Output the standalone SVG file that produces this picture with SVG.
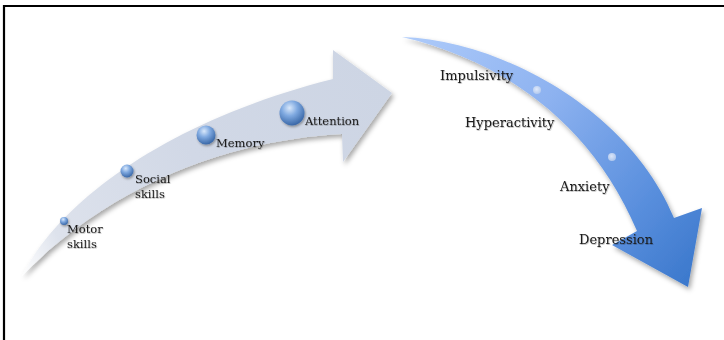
<svg xmlns="http://www.w3.org/2000/svg" width="724" height="340" viewBox="0 0 724 340">
<style>
.lbl{font-family:"DejaVu Serif","Liberation Serif",serif;fill:#1a1a1a;}
.sm{font-size:11.5px;}
.lg{font-size:13px;}
.frame{stroke:#000;stroke-width:2.2;fill:none;}
</style>
<defs>
<linearGradient id="gLeft" x1="22" y1="276" x2="392" y2="93" gradientUnits="userSpaceOnUse">
<stop offset="0" stop-color="#ffffff"/>
<stop offset="0.12" stop-color="#dde2ec"/>
<stop offset="0.5" stop-color="#d1d8e6"/>
<stop offset="1" stop-color="#cdd5e4"/>
</linearGradient>
<linearGradient id="gRight" x1="402" y1="37" x2="690" y2="285" gradientUnits="userSpaceOnUse">
<stop offset="0" stop-color="#aecbfa"/>
<stop offset="0.4" stop-color="#8db2f0"/>
<stop offset="0.75" stop-color="#5b90de"/>
<stop offset="1" stop-color="#3b78cc"/>
</linearGradient>
<radialGradient id="ball" cx="0.4" cy="0.3" r="0.7">
<stop offset="0" stop-color="#d9e8fb"/>
<stop offset="0.45" stop-color="#7fa9e0"/>
<stop offset="1" stop-color="#3a68a8"/>
</radialGradient>
<radialGradient id="ballR" cx="0.45" cy="0.4" r="0.6">
<stop offset="0" stop-color="#eef3fc"/>
<stop offset="1" stop-color="#b9cdee"/>
</radialGradient>
<filter id="sh" x="-10%" y="-10%" width="130%" height="130%">
<feDropShadow dx="2" dy="3" stdDeviation="2.5" flood-color="#000" flood-opacity="0.35"/>
</filter>
<filter id="bs" x="-50%" y="-50%" width="200%" height="200%">
<feDropShadow dx="1" dy="1.5" stdDeviation="1" flood-color="#000" flood-opacity="0.35"/>
</filter>
<filter id="ts" x="-10%" y="-30%" width="120%" height="160%">
<feDropShadow dx="0.6" dy="0.8" stdDeviation="0.6" flood-color="#000" flood-opacity="0.3"/>
</filter>
</defs>

<g id="frame">
<line class="frame" x1="3" y1="6" x2="724" y2="6"/>
<line class="frame" x1="4" y1="5" x2="4" y2="340"/>
</g>

<g id="connectors">
<path id="arrow-left" d="M 22 276 C 60 200, 170 120, 333 79 L 333 50 L 392 93 L 343 162 L 342 134 C 230 140, 110 185, 22 276 Z" fill="url(#gLeft)" filter="url(#sh)"/>
<path id="arrow-right" d="M 402 37 C 500 40, 630 110, 674 218 L 702 208 L 688 287 L 612 245 L 637 231 C 590 120, 500 60, 402 37 Z" fill="url(#gRight)" filter="url(#sh)"/>
</g>

<g id="node-motor">
<circle cx="64" cy="221" r="4" fill="url(#ball)" filter="url(#bs)"/>
<text class="lbl sm" x="67" y="233" filter="url(#ts)">Motor</text>
<text class="lbl sm" x="67" y="248" filter="url(#ts)">skills</text>
</g>
<g id="node-social">
<circle cx="127" cy="171" r="6.5" fill="url(#ball)" filter="url(#bs)"/>
<text class="lbl sm" x="135" y="183" filter="url(#ts)">Social</text>
<text class="lbl sm" x="135" y="198" filter="url(#ts)">skills</text>
</g>
<g id="node-memory">
<circle cx="206" cy="135" r="9.5" fill="url(#ball)" filter="url(#bs)"/>
<text class="lbl sm" x="216" y="147" filter="url(#ts)">Memory</text>
</g>
<g id="node-attention">
<circle cx="292" cy="113" r="12.5" fill="url(#ball)" filter="url(#bs)"/>
<text class="lbl sm" x="305" y="125" filter="url(#ts)">Attention</text>
</g>
<g id="node-impulsivity">
<circle cx="537" cy="90" r="4" fill="url(#ballR)" opacity="0.85"/>
<text class="lbl lg" x="440" y="80" filter="url(#ts)">Impulsivity</text>
</g>
<g id="node-hyperactivity">
<text class="lbl lg" x="465" y="127" filter="url(#ts)">Hyperactivity</text>
</g>
<g id="node-anxiety">
<circle cx="612" cy="157" r="4" fill="url(#ballR)" opacity="0.85"/>
<text class="lbl lg" x="560" y="191" filter="url(#ts)">Anxiety</text>
</g>
<g id="node-depression">
<text class="lbl lg" x="579" y="244" filter="url(#ts)">Depression</text>
</g>
</svg>
